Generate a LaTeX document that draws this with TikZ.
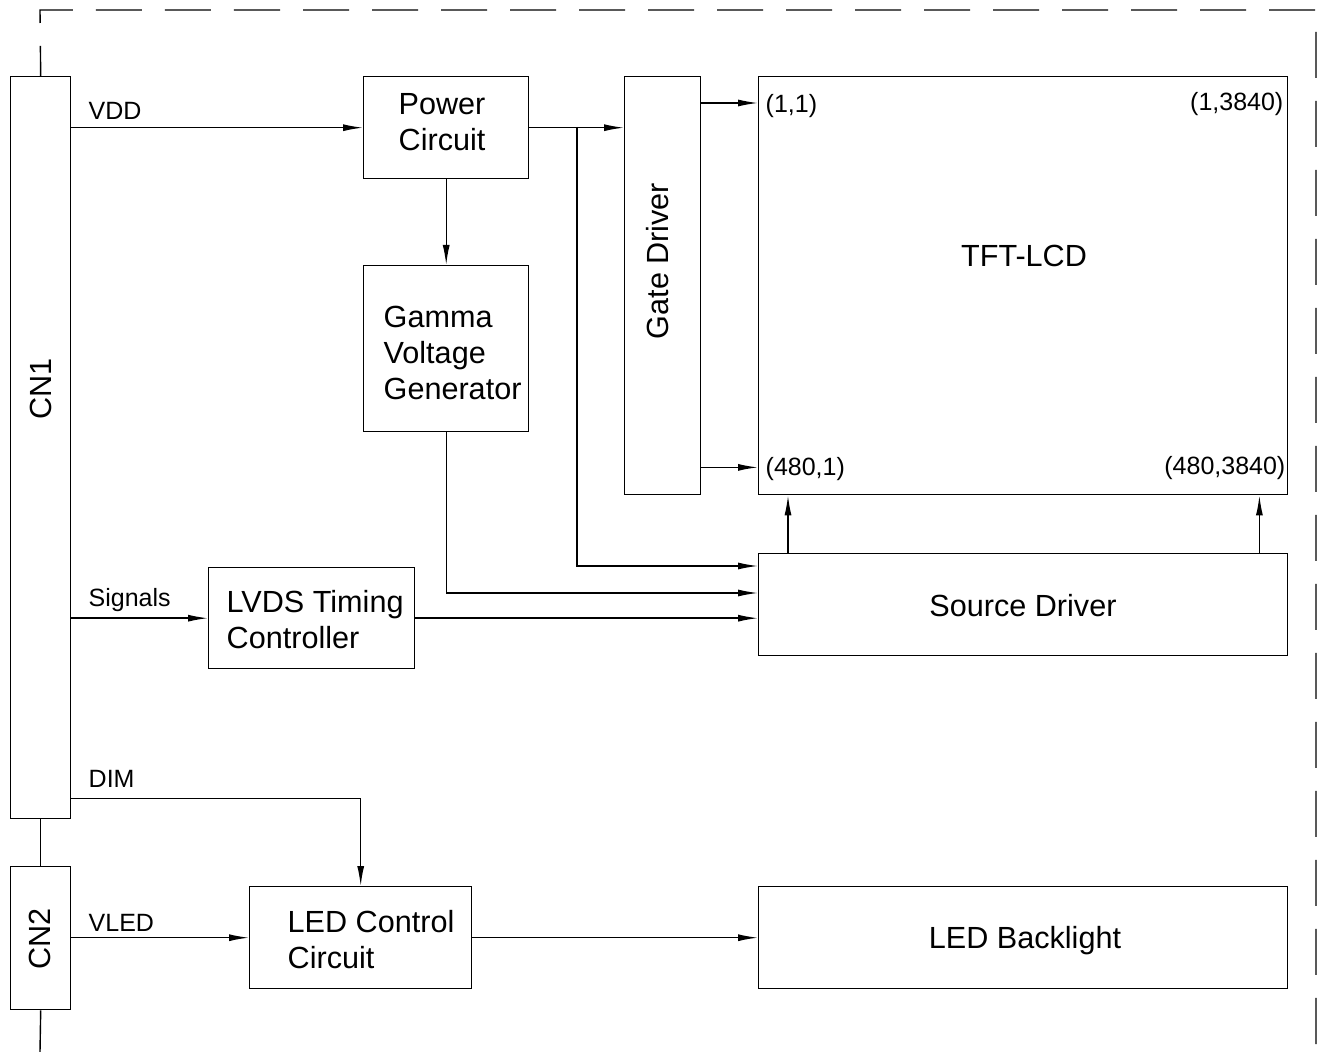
\documentclass[tikz,border=0pt]{standalone}
\usepackage{fontspec}
\setmainfont{Liberation Sans}
\usetikzlibrary{calc,positioning,arrows.meta}

\newcommand\bigfont{\fontsize{15.3}{18}\selectfont}
\newcommand\smallfont{\fontsize{12.5}{15}\selectfont}

\tikzset{
	blk/.style={draw,anchor=north west,inner sep=0},
	txt/.style={anchor=north west,inner sep=0,align=left,font=\bigfont},
	mid/.style={inner sep=0,font=\bigfont},
	lbl/.style={anchor=base west,inner sep=0,font=\smallfont},
	conn/.style={-{Latex[length=10pt,width=3.5pt]}},
	border/.style={dash pattern=on 23pt off 11.5pt,dash phase=8pt},
}

\begin{document}
\begin{tikzpicture}[x=0.5pt,y=-0.5pt,line width=0.7pt]
	\useasboundingbox (0,0) rectangle (1322,1052);
	% blocks
	\node(cn1) [blk,minimum width=30pt,minimum height=371pt] at (10,76) {};
	\node(cn2) [blk,minimum width=30pt,minimum height=71.5pt] at (10,866) {};
	\node(pwr) [blk,minimum width=82.5pt,minimum height=51pt] at (363,76) {};
	\node(gam) [blk,minimum width=82.5pt,minimum height=83pt] at (363,265) {};
	\node(gate) [blk,minimum width=38pt,minimum height=209pt] at (624,76) {};
	\node(tft) [blk,minimum width=264.5pt,minimum height=209pt] at (758,76) {};
	\node(src) [blk,minimum width=264.5pt,minimum height=51pt] at (758,553) {};
	\node(lvds) [blk,minimum width=103pt,minimum height=50.5pt] at (208,567) {};
	\node(ledc) [blk,minimum width=111pt,minimum height=51pt] at (249,886) {};
	\node(bl) [blk,minimum width=264.5pt,minimum height=51pt] at (758,886) {};

	% block texts
	\node(cn1t) [mid,rotate=90] at (41,389) {CN1};
	\node(cn2t) [mid,rotate=90] at (40,939) {CN2};
	\node(pwrt) [txt] at (398,93) {Power\\Circuit};
	\node(gamt) [txt] at (383,305) {Gamma\\Voltage\\Generator};
	\node(gatet) [mid,rotate=90] at (658,261) {Gate Driver};
	\node(tftt) [mid] at (1024,256) {TFT-LCD};
	\node(srct) [mid] at (1023,606) {Source Driver};
	\node(lvdst) [txt] at (226,590) {LVDS Timing\\Controller};
	\node(ledct) [txt] at (287,910) {LED Control\\Circuit};
	\node(blt) [mid,anchor=base] at (1025,948) {LED Backlight};

	% pixel corners
	\node(p11) [lbl] at (765,113) {(1,1)};
	\node(p1n) [lbl,anchor=base east] at (1284,111) {(1,3840)};
	\node(pm1) [lbl] at (765,476) {(480,1)};
	\node(pmn) [lbl,anchor=base east] at (1286,475) {(480,3840)};

	% signal names
	\node(vdd) [lbl] at (88,120) {VDD};
	\node(sig) [lbl] at (88,607) {Signals};
	\node(dim) [lbl] at (88,787) {DIM};
	\node(vled) [lbl] at (88,931) {VLED};

	% helper points
	\coordinate(jn) at (577,127);
	\coordinate(s1) at ($(src.north west)+(0,13)$);
	\coordinate(s2) at ($(src.north west)+(0,40)$);
	\coordinate(bot) at (40,1052);

	% connectors
	\draw[conn] (cn1.east |- pwr.west) -- (pwr.west);
	\draw[conn] (pwr.east) -- (pwr.east -| gate.west);
	\draw[conn] (jn) |- (s1);
	\draw[conn] (pwr.south) -- (gam.north);
	\draw[conn] (gam.south) |- (s2);
	\draw[conn] (cn1.east |- lvds.west) -- (lvds.west);
	\draw[conn] (lvds.east) -- (lvds.east -| src.west);
	\draw[conn] ($(gate.north east)+(0,27)$) -- ($(tft.north west)+(0,27)$);
	\draw[conn] ($(gate.south east)+(0,-28)$) -- ($(tft.south west)+(0,-28)$);
	\draw[conn] ($(src.north west)+(30,0)$) -- ($(tft.south west)+(30,0)$);
	\draw[conn] ($(src.north east)+(-29,0)$) -- ($(tft.south east)+(-29,0)$);
	\draw[conn] ($(cn1.south east)+(0,-21)$) -| (ledc.north);
	\draw[conn] (cn2.east |- ledc.west) -- (ledc.west);
	\draw[conn] (ledc.east) -- (bl.west);
	\draw (cn1.south) -- (cn2.north);
	\draw (cn2.south) -- (bot);

	% module outline
	\draw[border] (cn1.north) -- (40,10) -- (1316,10) -- (1316,1052);
\end{tikzpicture}
\end{document}
